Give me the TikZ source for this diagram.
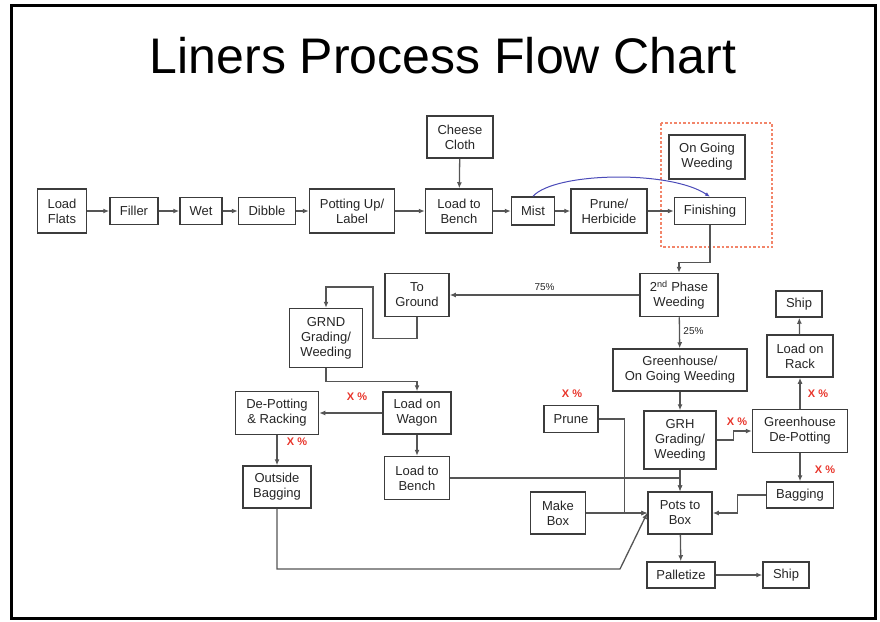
\documentclass[tikz,border=0pt]{standalone}
\usepackage{fontspec}
\setmainfont{Liberation Sans}
\usetikzlibrary{arrows.meta,calc}
\definecolor{boxline}{HTML}{3C3C3C}
\definecolor{flowgray}{HTML}{555555}
\definecolor{pctred}{HTML}{E8352B}
\definecolor{zonered}{HTML}{F2856A}
\definecolor{loopblue}{HTML}{4A4AB8}
\tikzset{
  stage/.style={draw=boxline,line width=1.5pt,fill=white,align=center,
    font=\fontsize{13}{15}\selectfont,text=black!85,inner sep=1pt},
  flow/.style={draw=flowgray,line width=1.3pt,-{Latex[length=6pt,width=5pt]}},
  pct/.style={text=pctred,font=\fontsize{11}{13}\selectfont\bfseries},
  share/.style={font=\fontsize{10}{12}\selectfont,text=black!85}
}

\begin{document}
\begin{tikzpicture}[x=1pt,y=-1pt]
  \useasboundingbox (0,0) rectangle (880,621);
  \draw[line width=3pt] (11,5) rectangle (875,618);
  \node[font=\fontsize{50}{60}\selectfont] (title) at (443,56) {Liners Process Flow Chart};

  % first line
  \draw[zonered,line width=2pt,dash pattern=on 2.5pt off 2pt] (661,123) rectangle (772,247);
  \node[stage,minimum width=49pt,minimum height=44pt] (lf) at (62,211) {Load\\Flats};
  \node[stage,minimum width=48pt,minimum height=27pt] (fil) at (134,211) {Filler};
  \node[stage,minimum width=42pt,minimum height=27pt] (wet) at (201,211) {Wet};
  \node[stage,minimum width=57pt,minimum height=27pt] (dib) at (267,211) {Dibble};
  \node[stage,minimum width=85pt,minimum height=44pt] (pot) at (352,211) {Potting Up/\\Label};
  \node[stage,minimum width=67pt,minimum height=44pt] (ltb) at (459,211) {Load to\\Bench};
  \node[stage,minimum width=66pt,minimum height=42pt] (cc) at (460,137) {Cheese\\Cloth};
  \node[stage,minimum width=43pt,minimum height=28pt] (mist) at (533,211) {Mist};
  \node[stage,minimum width=76pt,minimum height=44pt] (prh) at (609,211) {Prune/\\Herbicide};
  \node[stage,minimum width=71pt,minimum height=27pt] (fin) at (710,211) {Finishing};
  \node[stage,minimum width=76pt,minimum height=44pt] (ogw) at (707,157) {On Going\\Weeding};

  % split
  \node[stage,minimum width=78pt,minimum height=43pt] (ph2) at (679,295) {2\textsuperscript{nd} Phase\\Weeding};
  \node[stage,minimum width=64pt,minimum height=43pt] (tg) at (417,295) {To\\Ground};
  \node[stage,minimum width=73pt,minimum height=59pt] (grnd) at (326,338) {GRND\\Grading/\\Weeding};
  \node[stage,minimum width=68pt,minimum height=42pt] (low) at (417,413) {Load on\\Wagon};
  \node[stage,minimum width=83pt,minimum height=43pt] (dpr) at (277,413) {De-Potting\\\& Racking};
  \node[stage,minimum width=68pt,minimum height=42pt] (ob) at (277,487) {Outside\\Bagging};
  \node[stage,minimum width=65pt,minimum height=43pt] (ltb2) at (417,478) {Load to\\Bench};

  % greenhouse side
  \node[stage,minimum width=134pt,minimum height=42pt] (gh) at (680,370) {Greenhouse/\\On Going Weeding};
  \node[stage,minimum width=72pt,minimum height=58pt] (grh) at (680,440) {GRH\\Grading/\\Weeding};
  \node[stage,minimum width=95pt,minimum height=43pt] (gdp) at (800,431) {Greenhouse\\De-Potting};
  \node[stage,minimum width=66pt,minimum height=42pt] (rack) at (800,356) {Load on\\Rack};
  \node[stage,minimum width=46pt,minimum height=26pt] (ship1) at (799,304) {Ship};
  \node[stage,minimum width=67pt,minimum height=26pt] (bag) at (800,495) {Bagging};
  \node[stage,minimum width=54pt,minimum height=27pt] (pr) at (571,419) {Prune};
  \node[stage,minimum width=55pt,minimum height=42pt] (mb) at (558,513) {Make\\Box};
  \node[stage,minimum width=64pt,minimum height=42pt] (pb) at (680,513) {Pots to\\Box};
  \node[stage,minimum width=68pt,minimum height=26pt] (pal) at (681,575) {Palletize};
  \node[stage,minimum width=46pt,minimum height=26pt] (ship2) at (786,575) {Ship};

  \foreach \a/\b in {lf/fil,fil/wet,wet/dib,dib/pot,pot/ltb,ltb/mist,mist/prh,prh/fin}
    \draw[flow] (\a) -- (\b);
  \draw[flow] (cc) -- (ltb);
  \draw[loopblue,line width=1pt,-{Latex[length=5pt,width=4pt]}] (mist.north) .. controls (555,172) and (670,170) .. (fin.north);
  \draw[flow] (fin.south) -- ++(0,37) -| (ph2.north);

  \draw[flow] (ph2) -- node[share,above,pos=0.5] {75\%} (tg);
  \draw[flow] (tg.south) -- ++(0,21) -| (373,287) -| (grnd.north);
  \draw[flow] (grnd.south) -- ++(0,13) -| (low.north);
  \draw[flow] (low) -- (dpr);
  \draw[flow] (dpr) -- (ob);
  \draw[flow] (low) -- (ltb2);
  \draw[flow] (ltb2.east) -| (pb.north);
  \draw[flow] (ob.south) |- (620,569) -- (pb.west);
  \draw[flow] (pr.east) -- ++(26,0) |- (pb.west);
  \draw[flow] (mb) -- (pb);

  \draw[flow] (ph2) -- node[share,right,pos=0.45] {25\%} (gh);
  \draw[flow] (gh) -- (grh);
  \draw[flow] (grh) -- (pb);
  \draw[flow] (grh.east) -- ++(17,0) |- (gdp.west);
  \draw[flow] (gdp) -- (rack);
  \draw[flow] (rack) -- (ship1);
  \draw[flow] (gdp) -- (bag);
  \draw[flow] (bag.west) -- ++(-28,0) |- (pb.east);
  \draw[flow] (pb) -- (pal);
  \draw[flow] (pal) -- (ship2);

  \foreach \p in {(357,397),(297,442),(572,394),(737,422),(818,394),(825,470)}
    \node[pct] at \p {X \%};
\end{tikzpicture}
\end{document}
